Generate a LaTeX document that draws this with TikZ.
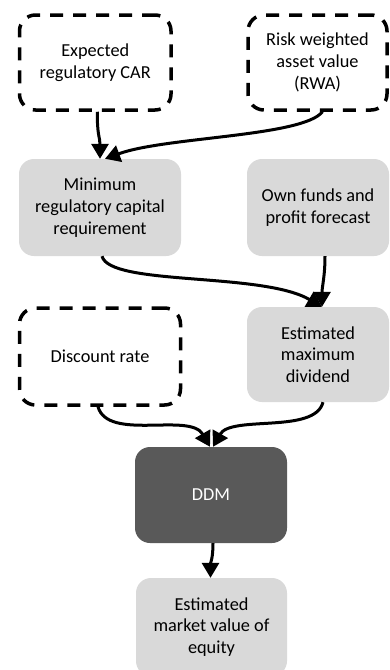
\documentclass[tikz,border=0pt]{standalone}
\usepackage{fontspec}
\setmainfont{Carlito}
\usetikzlibrary{arrows.meta,calc}
\definecolor{boxgray}{HTML}{D9D9D9}
\definecolor{ddmgray}{HTML}{595959}
\begin{document}
\begin{tikzpicture}[x=1pt,y=-1pt,
  every node/.style={font=\fontsize{18.3}{21.7}\selectfont, align=center, inner sep=0pt},
  dbox/.style={draw=black, line width=3.5pt, dash pattern=on 13pt off 10pt, rounded corners=16pt},
  gbox/.style={fill=boxgray, rounded corners=15pt},
  dark/.style={fill=ddmgray, text=white, rounded corners=15pt},
  arr/.style={line width=3pt, -{Triangle[length=15pt,width=17pt]}}]
\fill[white] (0,0) rectangle (389,670);
\useasboundingbox (0,0) rectangle (389,670);
% nodes
\node[dbox, minimum width=151.5pt, minimum height=95pt] (car) at (95.25,62.5) {Expected\\regulatory CAR};
\node[dbox, minimum width=139pt, minimum height=95pt] (rwa) at (317.5,62.5) {Risk weighted\\asset value\\(RWA)};
\node[gbox, minimum width=162pt, minimum height=97pt] (min) at (100,207.5) {Minimum\\regulatory capital\\requirement};
\node[gbox, minimum width=142pt, minimum height=97pt] (own) at (318,207.5) {Own funds and\\profit forecast};
\node[dbox, minimum width=161pt, minimum height=97pt] (disc) at (100,356.5) {Discount rate};
\node[gbox, minimum width=142pt, minimum height=95pt] (div) at (318,354.5) {Estimated\\maximum\\dividend};
\node[dark, minimum width=152pt, minimum height=96pt] (ddm) at (211,495) {DDM};
\node[gbox, minimum width=151pt, minimum height=98pt] (mv) at (211.5,627) {Estimated\\market value of\\equity};
% connectors
\draw[arr] ([xshift=2pt]car.south) .. controls +(0,25) and +(0,-22) .. ([xshift=0pt]min.north);
\draw[arr] ([xshift=5pt]rwa.south) .. controls +(-20,25) and +(60,-22) .. ([xshift=5pt]min.north);
\draw[arr] ([xshift=2pt]min.south) .. controls +(8,30) and +(-60,-35) .. ([xshift=4pt]div.north);
\draw[arr] ([xshift=7pt]own.south) .. controls +(0,20) and +(0,-20) .. ([xshift=4pt]div.north);
\draw[arr] ([xshift=-2pt]disc.south) .. controls +(10,35) and +(-20,-35) .. ([xshift=-1pt]ddm.north);
\draw[arr] ([xshift=5pt]div.south) .. controls +(-8,32) and +(18,-32) .. ([xshift=2pt]ddm.north);
\draw[arr] ([xshift=2pt]ddm.south) .. controls +(0,15) and +(0,-15) .. ([xshift=-1pt]mv.north);
\end{tikzpicture}
\end{document}
